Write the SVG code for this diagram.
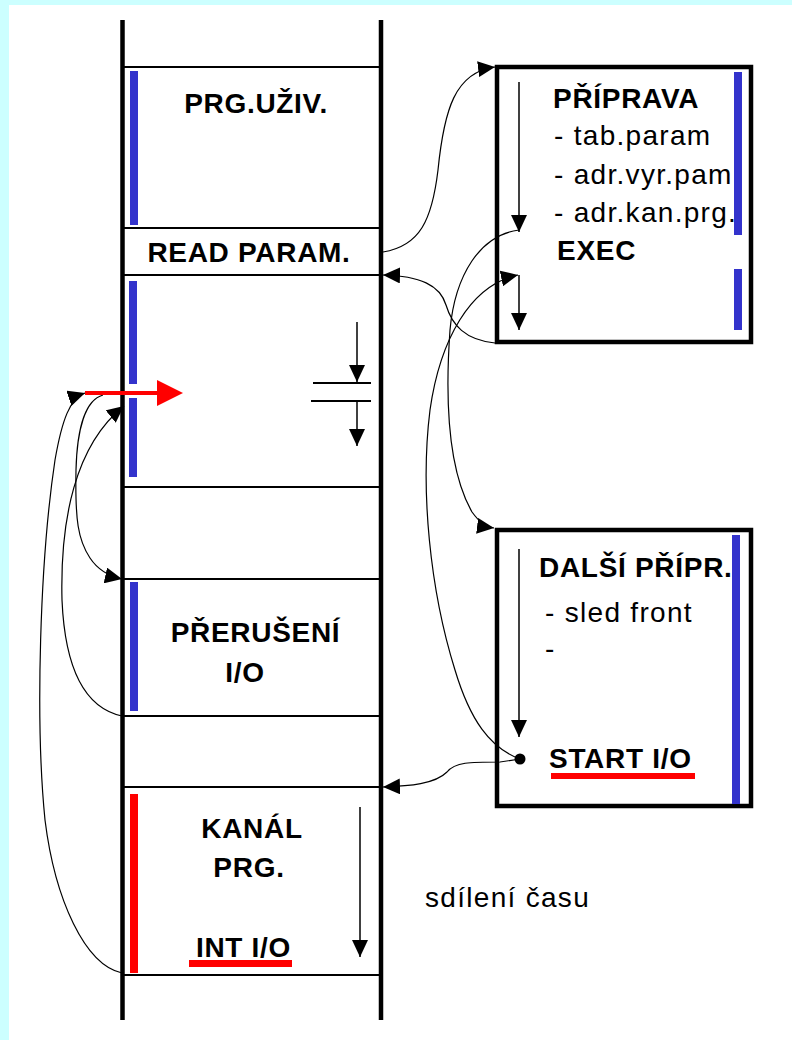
<svg xmlns="http://www.w3.org/2000/svg" width="792" height="1040" viewBox="0 0 792 1040">
<defs>
<style>
.b{font-family:"Liberation Sans",Arial,sans-serif;font-weight:bold;font-size:28px;letter-spacing:0.7px;fill:#000}
.r{font-family:"Liberation Sans",Arial,sans-serif;font-size:28px;letter-spacing:1.3px;fill:#000}
.c{text-anchor:middle}
.col{stroke:#000;stroke-width:4.5;fill:none}
.sep{stroke:#000;stroke-width:2;fill:none}
.box{stroke:#000;stroke-width:4.5;fill:#fff}
.blue{fill:#3333cc}
.red{fill:#ff0000}
.cv{stroke:#000;stroke-width:1.2;fill:none;marker-end:url(#ah)}
.st{stroke:#000;stroke-width:1.5;fill:none;marker-end:url(#ah)}
</style>
<marker id="ah" markerUnits="userSpaceOnUse" markerWidth="17" markerHeight="16" refX="17" refY="8" orient="auto" viewBox="0 0 17 16">
<path d="M0,0 L17,8 L0,16 z" fill="#000"/>
</marker>
</defs>
<rect x="0" y="0" width="792" height="1040" fill="#ccffff"/>
<rect x="9" y="5" width="783" height="1035" fill="#fff"/>

<g id="column">
<line class="col" x1="122.5" y1="20" x2="122.5" y2="1020"/>
<line class="col" x1="381" y1="20" x2="381" y2="1020"/>
<line class="sep" x1="122" y1="67" x2="381" y2="67"/>
<line class="sep" x1="122" y1="228" x2="381" y2="228"/>
<line class="sep" x1="122" y1="275" x2="381" y2="275"/>
<line class="sep" x1="122" y1="487" x2="381" y2="487"/>
<line class="sep" x1="122" y1="579" x2="381" y2="579"/>
<line class="sep" x1="122" y1="716" x2="381" y2="716"/>
<line class="sep" x1="122" y1="787" x2="381" y2="787"/>
<line class="sep" x1="122" y1="975" x2="381" y2="975"/>
</g>

<g id="prg-uziv">
<rect class="blue" x="130" y="71" width="8" height="154"/>
<text class="b c" x="256" y="113">PRG.UŽIV.</text>
</g>

<g id="read-param">
<text class="b c" x="249" y="262">READ PARAM.</text>
</g>

<g id="user-cont">
<rect class="blue" x="129" y="281" width="8" height="103"/>
<rect class="blue" x="129" y="398" width="8" height="79"/>
<line class="sep" x1="313" y1="383" x2="371" y2="383"/>
<line class="sep" x1="311" y1="401" x2="371" y2="401"/>
<line class="st" x1="357" y1="322" x2="357" y2="382"/>
<line class="st" x1="357" y1="401" x2="357" y2="446"/>
</g>

<g id="preruseni">
<rect class="blue" x="130" y="582" width="8" height="129"/>
<text class="b c" x="255.5" y="642">PŘERUŠENÍ</text>
<text class="b c" x="245" y="682">I/O</text>
</g>

<g id="kanal">
<rect class="red" x="130" y="794" width="8" height="179"/>
<text class="b c" x="252" y="838">KANÁL</text>
<text class="b c" x="249" y="877">PRG.</text>
<text class="b c" x="243.5" y="957">INT I/O</text>
<rect class="red" x="189" y="960" width="103" height="7"/>
<line class="st" x1="360" y1="807" x2="360" y2="957"/>
</g>

<g id="priprava">
<rect class="box" x="497" y="67" width="254" height="275"/>
<rect class="blue" x="734" y="72" width="8" height="163"/>
<rect class="blue" x="734" y="269" width="8" height="61"/>
<text class="b" x="553" y="108">PŘÍPRAVA</text>
<text class="r" x="554" y="145">- tab.param</text>
<text class="r" x="554" y="184">- adr.vyr.pam</text>
<text class="r" x="554" y="222">- adr.kan.prg.</text>
<text class="b" x="557" y="260">EXEC</text>
<line class="st" x1="519" y1="82" x2="519" y2="232"/>
<line class="st" x1="519" y1="275" x2="519" y2="330"/>
</g>

<g id="dalsi">
<rect class="box" x="497" y="530" width="254" height="276"/>
<rect class="blue" x="732" y="535" width="8" height="269"/>
<text class="b" x="539" y="577">DALŠÍ PŘÍPR.</text>
<text class="r" x="545" y="622">- sled front</text>
<text class="r" x="545" y="658">-</text>
<text class="b" x="549" y="768">START I/O</text>
<rect class="red" x="551" y="773" width="144" height="6"/>
<line class="st" x1="519" y1="549" x2="519" y2="737"/>
<circle cx="520" cy="759" r="5.5" fill="#000"/>
</g>

<g id="sdileni">
<text class="r" x="425" y="907">sdílení času</text>
</g>

<g id="connectors">
<path class="cv" d="M383,252 C420,246 432,220 438,170 C444,110 455,72 495,67"/>
<path class="cv" d="M495,343 C465,340 452,325 446,305 C440,285 420,276 383,275"/>
<path class="cv" d="M519,230 C480,235 455,275 450,330 C445,400 448,470 472,512 C480,523 486,527 494,528"/>
<path class="cv" d="M520,759 C490,748 470,720 455,670 C430,590 420,490 430,410 C440,340 470,285 518,275"/>
<path class="cv" d="M520,759 L500,762 C470,762 455,762 447,772 C435,784 410,786 383,787"/>
<path class="cv" d="M122,973 C85,965 55,900 45,820 C35,720 40,560 55,460 C62,420 70,398 85,393"/>
<path class="cv" d="M103,395 C85,400 77,430 76,470 C75,520 78,540 90,558 C98,570 108,576 122,579"/>
<path class="cv" d="M122,716 C85,708 65,670 62,600 C60,520 75,445 124,406"/>
<line x1="85" y1="393" x2="160" y2="393" stroke="#ff0000" stroke-width="4"/>
<polygon points="157,380 183,393 157,406" fill="#ff0000"/>
</g>
</svg>
